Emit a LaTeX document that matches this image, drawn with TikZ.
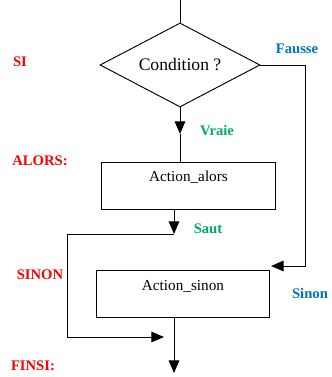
\documentclass[tikz,border=0pt]{standalone}
\usepackage{fontspec}
\setmainfont{Liberation Serif}
\usetikzlibrary{arrows.meta, shapes.geometric}

\definecolor{sired}{RGB}{255,0,0}
\definecolor{siblue}{RGB}{0,112,192}
\definecolor{sigreen}{RGB}{0,172,96}

\begin{document}
\begin{tikzpicture}[x=0.03cm, y=-0.03cm, line width=0.8pt,
    tip/.style={-{Triangle[length=3.8mm,width=3.2mm]}},
    box/.style={rectangle, draw, minimum width=5.2cm, minimum height=1.41cm,
      inner sep=0pt, text height=0.6cm, text depth=0.81cm, font=\fontsize{13}{15}\selectfont},
    kw/.style={font=\fontsize{12.5}{14}\selectfont\bfseries, text=sired},
    br/.style={font=\fontsize{12.5}{14}\selectfont\bfseries}]
  \useasboundingbox (0,0) rectangle (331,377);

  \node[diamond, draw, aspect=1.9, minimum width=4.8cm, minimum height=2.52cm, inner sep=0pt,
    font=\fontsize{15}{17}\selectfont] (cond) at (180,65) {Condition ?};
  \node[box] (alors) at (188.5,185.5) {Action\_alors};
  \node[box] (sinon) at (183,293.5) {Action\_sinon};

  \coordinate (top) at (180,0);
  \coordinate (v) at (180,134);
  \coordinate (f) at (305,65);
  \coordinate (e) at (271,266);
  \coordinate (s1) at (174,234);
  \coordinate (k) at (67,234);
  \coordinate (j) at (164,337);
  \coordinate (end) at (174,373);

  % labels
  \node[kw] (si) at (20,62) {SI};
  \node[kw] (alorskw) at (40,161) {ALORS:};
  \node[kw] (sinonkw) at (40,275) {SINON};
  \node[kw] (finsi) at (33,366) {FINSI:};
  \node[br, text=siblue] (fausse) at (297,49) {Fausse};
  \node[br, text=siblue] (sinonbr) at (310,293) {Sinon};
  \node[br, text=sigreen] (vraie) at (217,131) {Vraie};
  \node[br, text=sigreen] (saut) at (208,229) {Saut};

  \draw (top) -- (cond.north);
  \draw[tip] (cond.south) -- (v);
  \draw (v) -- (v |- alors.north);
  \draw[tip] (cond.east) -- (f) |- (e);
  \draw[tip] (s1 |- alors.south) -- (s1);
  \draw[tip] (s1) -- (k) |- (j);
  \draw[tip] (end |- sinon.south) -- (end);
\end{tikzpicture}
\end{document}
